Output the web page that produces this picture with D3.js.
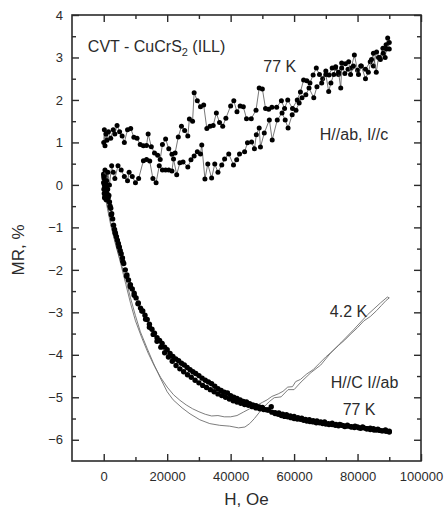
<!DOCTYPE html>
<html>
<head>
<meta charset="utf-8">
<script src="https://cdn.jsdelivr.net/npm/d3@7"></script>
<style>
  body { margin: 0; background: #fff; }
  svg { display: block; font-family: "Liberation Sans", Arial, sans-serif; }
</style>
</head>
<body>
<div id="chart"></div>
<script>
// ticks
const xTicks = [0, 20000, 40000, 60000, 80000, 100000];
const xMinorTicks = [10000, 30000, 50000, 70000, 90000];
const yTicks = [-6, -5, -4, -3, -2, -1, 0, 1, 2, 3, 4];
const yMinorTicks = [-5.5, -4.5, -3.5, -2.5, -1.5, -0.5, 0.5, 1.5, 2.5, 3.5];

// 77 K, H//ab I//c : upper branch [H (Oe), MR (%)]
const ab77Upper = [
  [0,1.0],[200,1.3],[400,0.92],[700,1.2],[1000,1.05],[1500,1.25],[2200,1.1],[3000,1.3],
  [3500,1.2],[4200,1.4],[5000,1.25],[5800,1.15],[6500,1.0],[7500,1.3],[8500,1.33],
  [9500,1.12],[10500,1.1],[11500,0.95],[12500,0.92],[13500,0.93],[14000,1.2],[15000,0.9],
  [16000,0.75],[17000,0.7],[17800,0.6],[18500,0.95],[19500,1.08],[20500,0.85],[21500,0.72],
  [22500,0.75],[23500,1.13],[24500,1.38],[25500,1.28],[26500,1.15],[27000,1.55],[28000,1.5],
  [28500,2.17],[29500,1.98],[30500,1.84],[31500,1.88],[32500,1.33],[33500,1.38],[34500,1.4],
  [35500,1.69],[36500,1.47],[37500,1.38],[38500,1.57],[40000,1.86],[41000,1.98],[42000,1.72],
  [43000,1.86],[44000,1.84],[45000,1.56],[46500,1.56],[48000,1.76],[49000,2.28],[50000,2.26],
  [51000,1.8],[52000,1.78],[53000,1.83],[54500,1.83],[56000,1.98],[57000,1.8],[58000,2.0],
  [59500,1.8],[61000,2.0],[62000,2.19],[63000,2.47],[64000,2.45],[65000,2.4],[66000,2.59],
  [67000,2.75],[68000,2.6],[69000,2.5],[70000,2.68],[71000,2.59],[72000,2.75],[73000,2.75],
  [74000,2.6],[75000,2.87],[76000,2.62],[77000,2.72],[78000,2.75],[79000,3.06],[80000,2.7],
  [81000,2.8],[82500,2.72],[84000,2.9],[85000,2.8],[86000,3.13],[87000,3.0],[88000,3.22],
  [89000,3.3],[89500,3.46],[90000,3.2]
];

// 77 K, H//ab I//c : lower branch
const ab77Lower = [
  [0,0.2],[400,0.35],[900,0.1],[1300,0.3],[1800,0.0],[2500,0.45],[3000,0.3],[3500,0.15],
  [4500,0.45],[5500,0.35],[6500,0.2],[7500,0.1],[8000,0.3],[9000,0.2],[10000,0.05],
  [11000,0.15],[12500,0.57],[13500,0.6],[14500,0.56],[15500,0.15],[16500,0.05],[17500,0.45],
  [18500,0.35],[19500,0.35],[20500,0.35],[21500,0.33],[22000,0.61],[23000,0.24],[24000,0.52],
  [25000,0.54],[26500,0.42],[27500,0.59],[28500,0.68],[29500,0.78],[30500,0.73],[30900,0.94],
  [31900,0.14],[32800,0.49],[34000,0.16],[35000,0.49],[36000,0.3],[37200,0.47],[38100,0.61],
  [39400,0.73],[40900,0.47],[41900,0.59],[42800,0.73],[44400,0.78],[45300,0.99],[46600,1.01],
  [47500,0.85],[48100,1.18],[49000,1.34],[49400,0.89],[50600,1.22],[52200,1.53],[53100,1.06],
  [54700,1.53],[56200,1.69],[57200,1.53],[58100,1.34],[59400,1.65],[60600,1.76],[61600,1.93],
  [62500,2.05],[63700,2.12],[64700,2.28],[66200,2.05],[67200,2.31],[68700,2.4],[70000,2.6],
  [70900,2.2],[71600,2.4],[72500,2.6],[73100,2.78],[74000,2.65],[74700,2.28],[75000,2.75],
  [76200,2.85],[77200,2.9],[77800,2.6],[78700,2.8],[80300,2.6],[81200,2.8],[82500,2.5],
  [83400,2.65],[84400,2.95],[85000,3.1],[85900,2.65],[86600,3.0],[87200,2.95],[88100,3.1],
  [88700,3.0],[89100,3.2],[90000,3.35]
];

// 77 K, H//C I//ab : sweep up
const c77Up = [
  [0,0.05],[100,-0.1],[150,0.15],[200,-0.2],[250,0.0],[300,-0.3],[400,0.2],[450,-0.05],
  [500,-0.25],[600,0.1],[700,-0.15],[800,-0.35],[900,0.0],[1000,-0.2],[1200,-0.1],[1400,-0.3],
  [1600,-0.25],[1800,-0.4],[2000,-0.5],[2200,-0.55],[2500,-0.68],[2800,-0.8],[3100,-0.95],
  [3400,-1.05],[3700,-1.15],[4000,-1.22],[4300,-1.3],[4600,-1.38],[4900,-1.47],[5200,-1.55],
  [5500,-1.62],[5900,-1.72],[6300,-1.85],[6800,-2.0],[7300,-2.12],[7800,-2.24],[8400,-2.35],
  [9000,-2.45],[9600,-2.55],[10200,-2.66],[10900,-2.78],[11600,-2.9],[12300,-2.97],[13000,-3.07],
  [13700,-3.17],[14400,-3.28],[15200,-3.4],[16000,-3.49],[16800,-3.6],[17600,-3.66],[18400,-3.73],
  [19200,-3.82],[20000,-3.88],[20900,-3.97],[21800,-4.04],[22700,-4.1],[23600,-4.14],[24500,-4.2],
  [25400,-4.24],[26300,-4.3],[27200,-4.35],[28100,-4.4],[29000,-4.44],[30000,-4.49],[31000,-4.55],
  [32000,-4.6],[33000,-4.64],[34000,-4.68],[35000,-4.74],[36000,-4.8],[37000,-4.84],[38000,-4.88],
  [39000,-4.9],[40000,-4.96],[41000,-5.0],[42000,-5.03],[43000,-5.06],[44000,-5.1],[45000,-5.11],
  [46000,-5.15],[47000,-5.18],[48000,-5.2],[49000,-5.23],[50000,-5.24],[51000,-5.29],[52000,-5.3],
  [53000,-5.35],[54000,-5.38],[55000,-5.4],[56000,-5.43],[57000,-5.45],[58000,-5.46],[59000,-5.48],
  [60000,-5.5],[61000,-5.51],[62000,-5.52],[63000,-5.54],[64000,-5.56],[65000,-5.57],[66000,-5.58],
  [67000,-5.6],[68000,-5.6],[69000,-5.62],[70000,-5.63],[71000,-5.64],[72000,-5.64],[73000,-5.66],
  [74000,-5.67],[75000,-5.66],[76000,-5.69],[77000,-5.68],[78000,-5.7],[79000,-5.71],[80000,-5.7],
  [81000,-5.73],[82000,-5.72],[83000,-5.74],[84000,-5.76],[85000,-5.74],[86000,-5.77],[87000,-5.78],
  [88000,-5.79],[89000,-5.8],[90000,-5.82]
];

// 77 K, H//C I//ab : sweep down
const c77Down = [
  [90000,-5.8],[88800,-5.77],[87600,-5.79],[86400,-5.75],[85200,-5.77],[84000,-5.73],[82800,-5.74],
  [81600,-5.7],[80400,-5.72],[79200,-5.68],[78000,-5.69],[76800,-5.66],[75600,-5.67],[74400,-5.64],
  [73200,-5.64],[72000,-5.61],[70800,-5.62],[69600,-5.58],[68400,-5.58],[67200,-5.56],[66000,-5.55],
  [64800,-5.53],[63600,-5.52],[62400,-5.49],[61200,-5.48],[60000,-5.45],[58800,-5.44],[57600,-5.41],
  [56400,-5.4],[55200,-5.37],[54000,-5.36],[52800,-5.22],[51600,-5.3],[50400,-5.29],[49200,-5.27],
  [48000,-5.25],[46800,-5.22],[45600,-5.19],[44400,-5.17],[43200,-5.14],[42000,-5.11],[40800,-5.08],
  [39600,-5.04],[38400,-5.0],[37200,-4.96],[36000,-4.92],[34800,-4.87],[33600,-4.82],[32400,-4.77],
  [31200,-4.72],[30000,-4.66],[28800,-4.6],[27600,-4.53],[26400,-4.47],[25200,-4.4],[24000,-4.33],
  [22800,-4.25],[21600,-4.15],[20400,-4.05],[19200,-3.95],[18000,-3.82],[16800,-3.68],[15600,-3.52],
  [14400,-3.35],[13200,-3.16],[12000,-2.97],[10800,-2.8],[9600,-2.6],[8400,-2.4],[7200,-2.15],
  [6000,-1.8],[4800,-1.45],[3600,-1.12],[2400,-0.7],[1200,-0.25],[600,0.1],[0,0.25]
];

// 4.2 K, H//C I//ab : two sweeps (thin lines)
const c4Up = [
  [0,0],[940,-0.47],[2190,-0.94],[3750,-1.41],[5310,-1.81],[6875,-2.19],[8440,-2.66],[10000,-3.08],
  [11560,-3.46],[13750,-3.86],[15625,-4.19],[17800,-4.54],[20000,-4.87],[21875,-5.06],[24700,-5.25],
  [27200,-5.39],[30300,-5.53],[33440,-5.62],[36560,-5.66],[39700,-5.68],[42500,-5.72],[44500,-5.7],
  [46000,-5.62],[47500,-5.5],[49000,-5.36],[50600,-5.22],[52200,-5.1],[53750,-5.01],[55900,-4.99],
  [58100,-4.82],[60000,-4.82],[62200,-4.64],[65300,-4.42],[68400,-4.24],[71600,-3.95],[74700,-3.72],
  [78750,-3.41],[83100,-3.06],[87200,-2.78],[89400,-2.64],[90000,-2.66]
];
const c4Down = [
  [90000,-2.66],[89000,-2.72],[87500,-2.84],[86000,-2.96],[84000,-3.1],[82000,-3.2],[80000,-3.36],
  [78000,-3.5],[76000,-3.65],[74000,-3.78],[72000,-3.92],[70000,-4.05],[68000,-4.2],[66000,-4.35],
  [64000,-4.45],[62000,-4.58],[60500,-4.63],[59500,-4.75],[58000,-4.76],[56500,-4.86],[55000,-4.92],
  [53000,-4.98],[51500,-5.06],[50000,-5.12],[48000,-5.2],[46000,-5.27],[44000,-5.35],[42000,-5.43],
  [40000,-5.46],[38000,-5.46],[36000,-5.43],[34000,-5.44],[32000,-5.4],[30000,-5.34],[28000,-5.27],
  [26000,-5.18],[24000,-5.07],[22000,-4.94],[20000,-4.76],[18000,-4.54],[16000,-4.27],[14000,-3.96],
  [12000,-3.6],[10000,-3.2],[8500,-2.8],[7000,-2.35],[5500,-1.9],[4000,-1.45],[2500,-1.0],
  [1200,-0.5],[500,-0.2],[0,0]
];

// annotations [H, MR, text]
const notes = [
  [50300, 2.66, "77 K"],
  [68100, 1.06, "H//ab, I//c"],
  [71250, -3.11, "4.2 K"],
  [71560, -4.78, "H//C I//ab"],
  [75300, -5.41, "77 K"]
];

const W = 444, H = 509;
const margin = { top: 15, right: 23, bottom: 48, left: 72 };
const width = W - margin.left - margin.right;
const height = H - margin.top - margin.bottom;

const svg = d3.select("#chart").append("svg")
  .attr("width", W)
  .attr("height", H);

const g = svg.append("g")
  .attr("transform", `translate(${margin.left},${margin.top})`);

const x = d3.scaleLinear().domain([-10000, 100000]).range([0, width]);
const y = d3.scaleLinear().domain([-6.5, 4]).range([height, 0]);

const ink = "#2b2b2b";

function styleAxis(sel) {
  sel.select(".domain").remove();
  sel.selectAll("line").attr("stroke", ink).attr("stroke-width", 1.4);
  sel.selectAll("text").attr("fill", ink).style("font-size", "13px");
}

// bottom
g.append("g").attr("transform", `translate(0,${height})`)
  .call(d3.axisBottom(x).tickValues(xTicks).tickFormat(d3.format("d")).tickSize(-7).tickSizeOuter(0).tickPadding(11))
  .call(styleAxis);
g.append("g").attr("transform", `translate(0,${height})`)
  .call(d3.axisBottom(x).tickValues(xMinorTicks).tickFormat("").tickSize(-4).tickSizeOuter(0))
  .call(styleAxis);
// top
g.append("g")
  .call(d3.axisTop(x).tickValues(xTicks).tickFormat("").tickSize(-7).tickSizeOuter(0))
  .call(styleAxis);
g.append("g")
  .call(d3.axisTop(x).tickValues(xMinorTicks).tickFormat("").tickSize(-4).tickSizeOuter(0))
  .call(styleAxis);
// left
g.append("g")
  .call(d3.axisLeft(y).tickValues(yTicks).tickSize(-7).tickSizeOuter(0).tickPadding(9))
  .call(styleAxis);
g.append("g")
  .call(d3.axisLeft(y).tickValues(yMinorTicks).tickFormat("").tickSize(-4).tickSizeOuter(0))
  .call(styleAxis);
// right
g.append("g").attr("transform", `translate(${width},0)`)
  .call(d3.axisRight(y).tickValues(yTicks).tickFormat("").tickSize(-7).tickSizeOuter(0))
  .call(styleAxis);
g.append("g").attr("transform", `translate(${width},0)`)
  .call(d3.axisRight(y).tickValues(yMinorTicks).tickFormat("").tickSize(-4).tickSizeOuter(0))
  .call(styleAxis);

// frame
g.append("rect")
  .attr("width", width)
  .attr("height", height)
  .attr("fill", "none")
  .attr("stroke", ink)
  .attr("stroke-width", 1.6);

const line = d3.line().x(d => x(d[0])).y(d => y(d[1]));

// 4.2 K thin lines
[c4Up, c4Down].forEach(s => {
  g.append("path")
    .datum(s)
    .attr("fill", "none")
    .attr("stroke", "#6e6e6e")
    .attr("stroke-width", 0.9)
    .attr("d", line);
});

// 77 K H//C dots
[c77Up, c77Down].forEach(s => {
  g.append("g").selectAll("circle")
    .data(s)
    .enter().append("circle")
    .attr("cx", d => x(d[0]))
    .attr("cy", d => y(d[1]))
    .attr("r", 2.7)
    .attr("fill", "#000");
});

// 77 K H//ab : line + dots
[ab77Upper, ab77Lower].forEach(s => {
  g.append("path")
    .datum(s)
    .attr("fill", "none")
    .attr("stroke", "#555")
    .attr("stroke-width", 0.8)
    .attr("d", line);
  g.append("g").selectAll("circle")
    .data(s)
    .enter().append("circle")
    .attr("cx", d => x(d[0]))
    .attr("cy", d => y(d[1]))
    .attr("r", 2.5)
    .attr("fill", "#000");
});

// title label
const title = g.append("text")
  .attr("x", x(-5000))
  .attr("y", y(3.13))
  .attr("fill", ink)
  .style("font-size", "16px");
title.append("tspan").text("CVT - CuCrS");
title.append("tspan").attr("dy", 4).style("font-size", "11px").text("2");
title.append("tspan").attr("dy", -4).text(" (ILL)");

g.selectAll(".note")
  .data(notes)
  .enter().append("text")
  .attr("class", "note")
  .attr("x", d => x(d[0]))
  .attr("y", d => y(d[1]))
  .attr("fill", ink)
  .style("font-size", "16px")
  .text(d => d[2]);

// axis titles
svg.append("text")
  .attr("text-anchor", "middle")
  .attr("x", margin.left + width / 2)
  .attr("y", 505)
  .attr("fill", ink)
  .style("font-size", "17px")
  .text("H, Oe");

svg.append("text")
  .attr("text-anchor", "middle")
  .attr("transform", "rotate(-90)")
  .attr("x", -250)
  .attr("y", 24)
  .attr("fill", ink)
  .style("font-size", "17px")
  .text("MR, %");
</script>
</body>
</html>
